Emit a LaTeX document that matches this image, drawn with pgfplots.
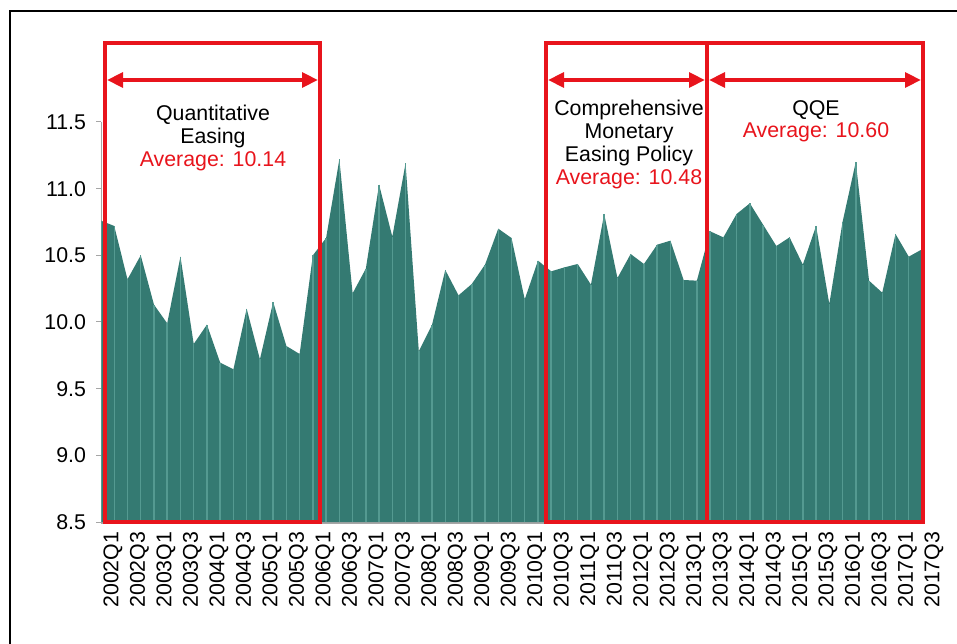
\documentclass[border=0pt]{standalone}
\usepackage{fontspec}
\setmainfont{Liberation Sans}
\usepackage{pgfplots}
\usepackage{pgfplotstable}
\pgfplotsset{compat=1.18}
\usetikzlibrary{arrows.meta}
\definecolor{areac}{RGB}{52,122,114}
\definecolor{stripec}{RGB}{84,154,145}
\definecolor{redc}{RGB}{232,20,28}
\definecolor{axisgray}{RGB}{166,166,166}
\pgfplotstableread{
i v
0 10.76
1 10.72
2 10.32
3 10.50
4 10.13
5 9.99
6 10.49
7 9.835
8 9.98
9 9.695
10 9.645
11 10.10
12 9.72
13 10.15
14 9.82
15 9.76
16 10.50
17 10.63
18 11.22
19 10.215
20 10.40
21 11.03
22 10.64
23 11.19
24 9.78
25 9.98
26 10.39
27 10.20
28 10.285
29 10.43
30 10.70
31 10.63
32 10.17
33 10.46
34 10.38
35 10.41
36 10.435
37 10.28
38 10.81
39 10.33
40 10.51
41 10.435
42 10.58
43 10.61
44 10.315
45 10.31
46 10.68
47 10.635
48 10.81
49 10.89
50 10.73
51 10.57
52 10.635
53 10.43
54 10.72
55 10.135
56 10.75
57 11.20
58 10.31
59 10.22
60 10.66
61 10.49
62 10.545
}\datatable
\newcommand{\lblfont}{\fontsize{16}{19}\selectfont}
\begin{document}
\begin{tikzpicture}
\useasboundingbox (0pt,0pt) rectangle (717.75pt,482.25pt);
\begin{axis}[
  at={(75.75pt,90.75pt)}, anchor=south west,
  scale only axis, width=615.75pt, height=300pt,
  xmin=0, xmax=62, ymin=8.5, ymax=11.5,
  axis x line=bottom, axis y line=left,
  x axis line style={-, line width=2.25pt, draw=axisgray},
  y axis line style={-, line width=0.75pt, draw=axisgray},
  ytick={8.5,9,9.5,10,10.5,11,11.5},
  yticklabel style={font=\lblfont, /pgf/number format/fixed, /pgf/number format/fixed zerofill, /pgf/number format/precision=1, xshift=-4pt},
  /pgf/number format/assume math mode=true,
  tick align=outside, major tick length=3.75pt,
  ytick style={draw=axisgray, line width=0.75pt},
  xtick={0,2,...,62},
  xticklabels={2002Q1,2002Q3,2003Q1,2003Q3,2004Q1,2004Q3,2005Q1,2005Q3,2006Q1,2006Q3,2007Q1,2007Q3,2008Q1,2008Q3,2009Q1,2009Q3,2010Q1,2010Q3,2011Q1,2011Q3,2012Q1,2012Q3,2013Q1,2013Q3,2014Q1,2014Q3,2015Q1,2015Q3,2016Q1,2016Q3,2017Q1,2017Q3},
  xtick style={draw=none},
  xticklabel style={rotate=90, anchor=east, font=\lblfont, yshift=-9pt},
]
\addplot[fill=areac, draw=none] table[x=i, y=v] {\datatable} \closedcycle;
\addplot[ycomb, draw=stripec, line width=1.1pt] table[x=i, y=v] {\datatable};
\end{axis}
\begin{scope}[x=0.75pt, y=-0.75pt, shift={(0pt,482.25pt)}]
  \draw[line width=1pt] (10,700) -- (10,11) -- (1000,11);
  \draw[redc, line width=2.6pt] (105,43) rectangle (320,522);
  \draw[redc, line width=2.6pt] (546,43) rectangle (707,522);
  \draw[redc, line width=2.6pt] (707,43) rectangle (923,522);
  \draw[redc, line width=3pt, {Triangle[length=12pt,width=11pt]}-{Triangle[length=12pt,width=11pt]}] (107,80) -- (318,80);
  \draw[redc, line width=3pt, {Triangle[length=12pt,width=11pt]}-{Triangle[length=12pt,width=11pt]}] (548,80) -- (705,80);
  \draw[redc, line width=3pt, {Triangle[length=12pt,width=11pt]}-{Triangle[length=12pt,width=11pt]}] (709,80) -- (921,80);
  \node[anchor=base, font=\lblfont, inner sep=0pt] at (213,120.3) {Quantitative};
  \node[anchor=base, font=\lblfont, inner sep=0pt] at (213,143.6) {Easing};
  \node[anchor=base, font=\lblfont, inner sep=0pt, text=redc] at (213,167) {Average: 10.14};
  \node[anchor=base, font=\lblfont, inner sep=0pt] at (629,115.3) {Comprehensive};
  \node[anchor=base, font=\lblfont, inner sep=0pt] at (629,138.6) {Monetary};
  \node[anchor=base, font=\lblfont, inner sep=0pt] at (629,162) {Easing Policy};
  \node[anchor=base, font=\lblfont, inner sep=0pt, text=redc] at (629,184.6) {Average: 10.48};
  \node[anchor=base, font=\lblfont, inner sep=0pt] at (816,115.3) {QQE};
  \node[anchor=base, font=\lblfont, inner sep=0pt, text=redc] at (816,138) {Average: 10.60};
\end{scope}
\end{tikzpicture}
\end{document}
